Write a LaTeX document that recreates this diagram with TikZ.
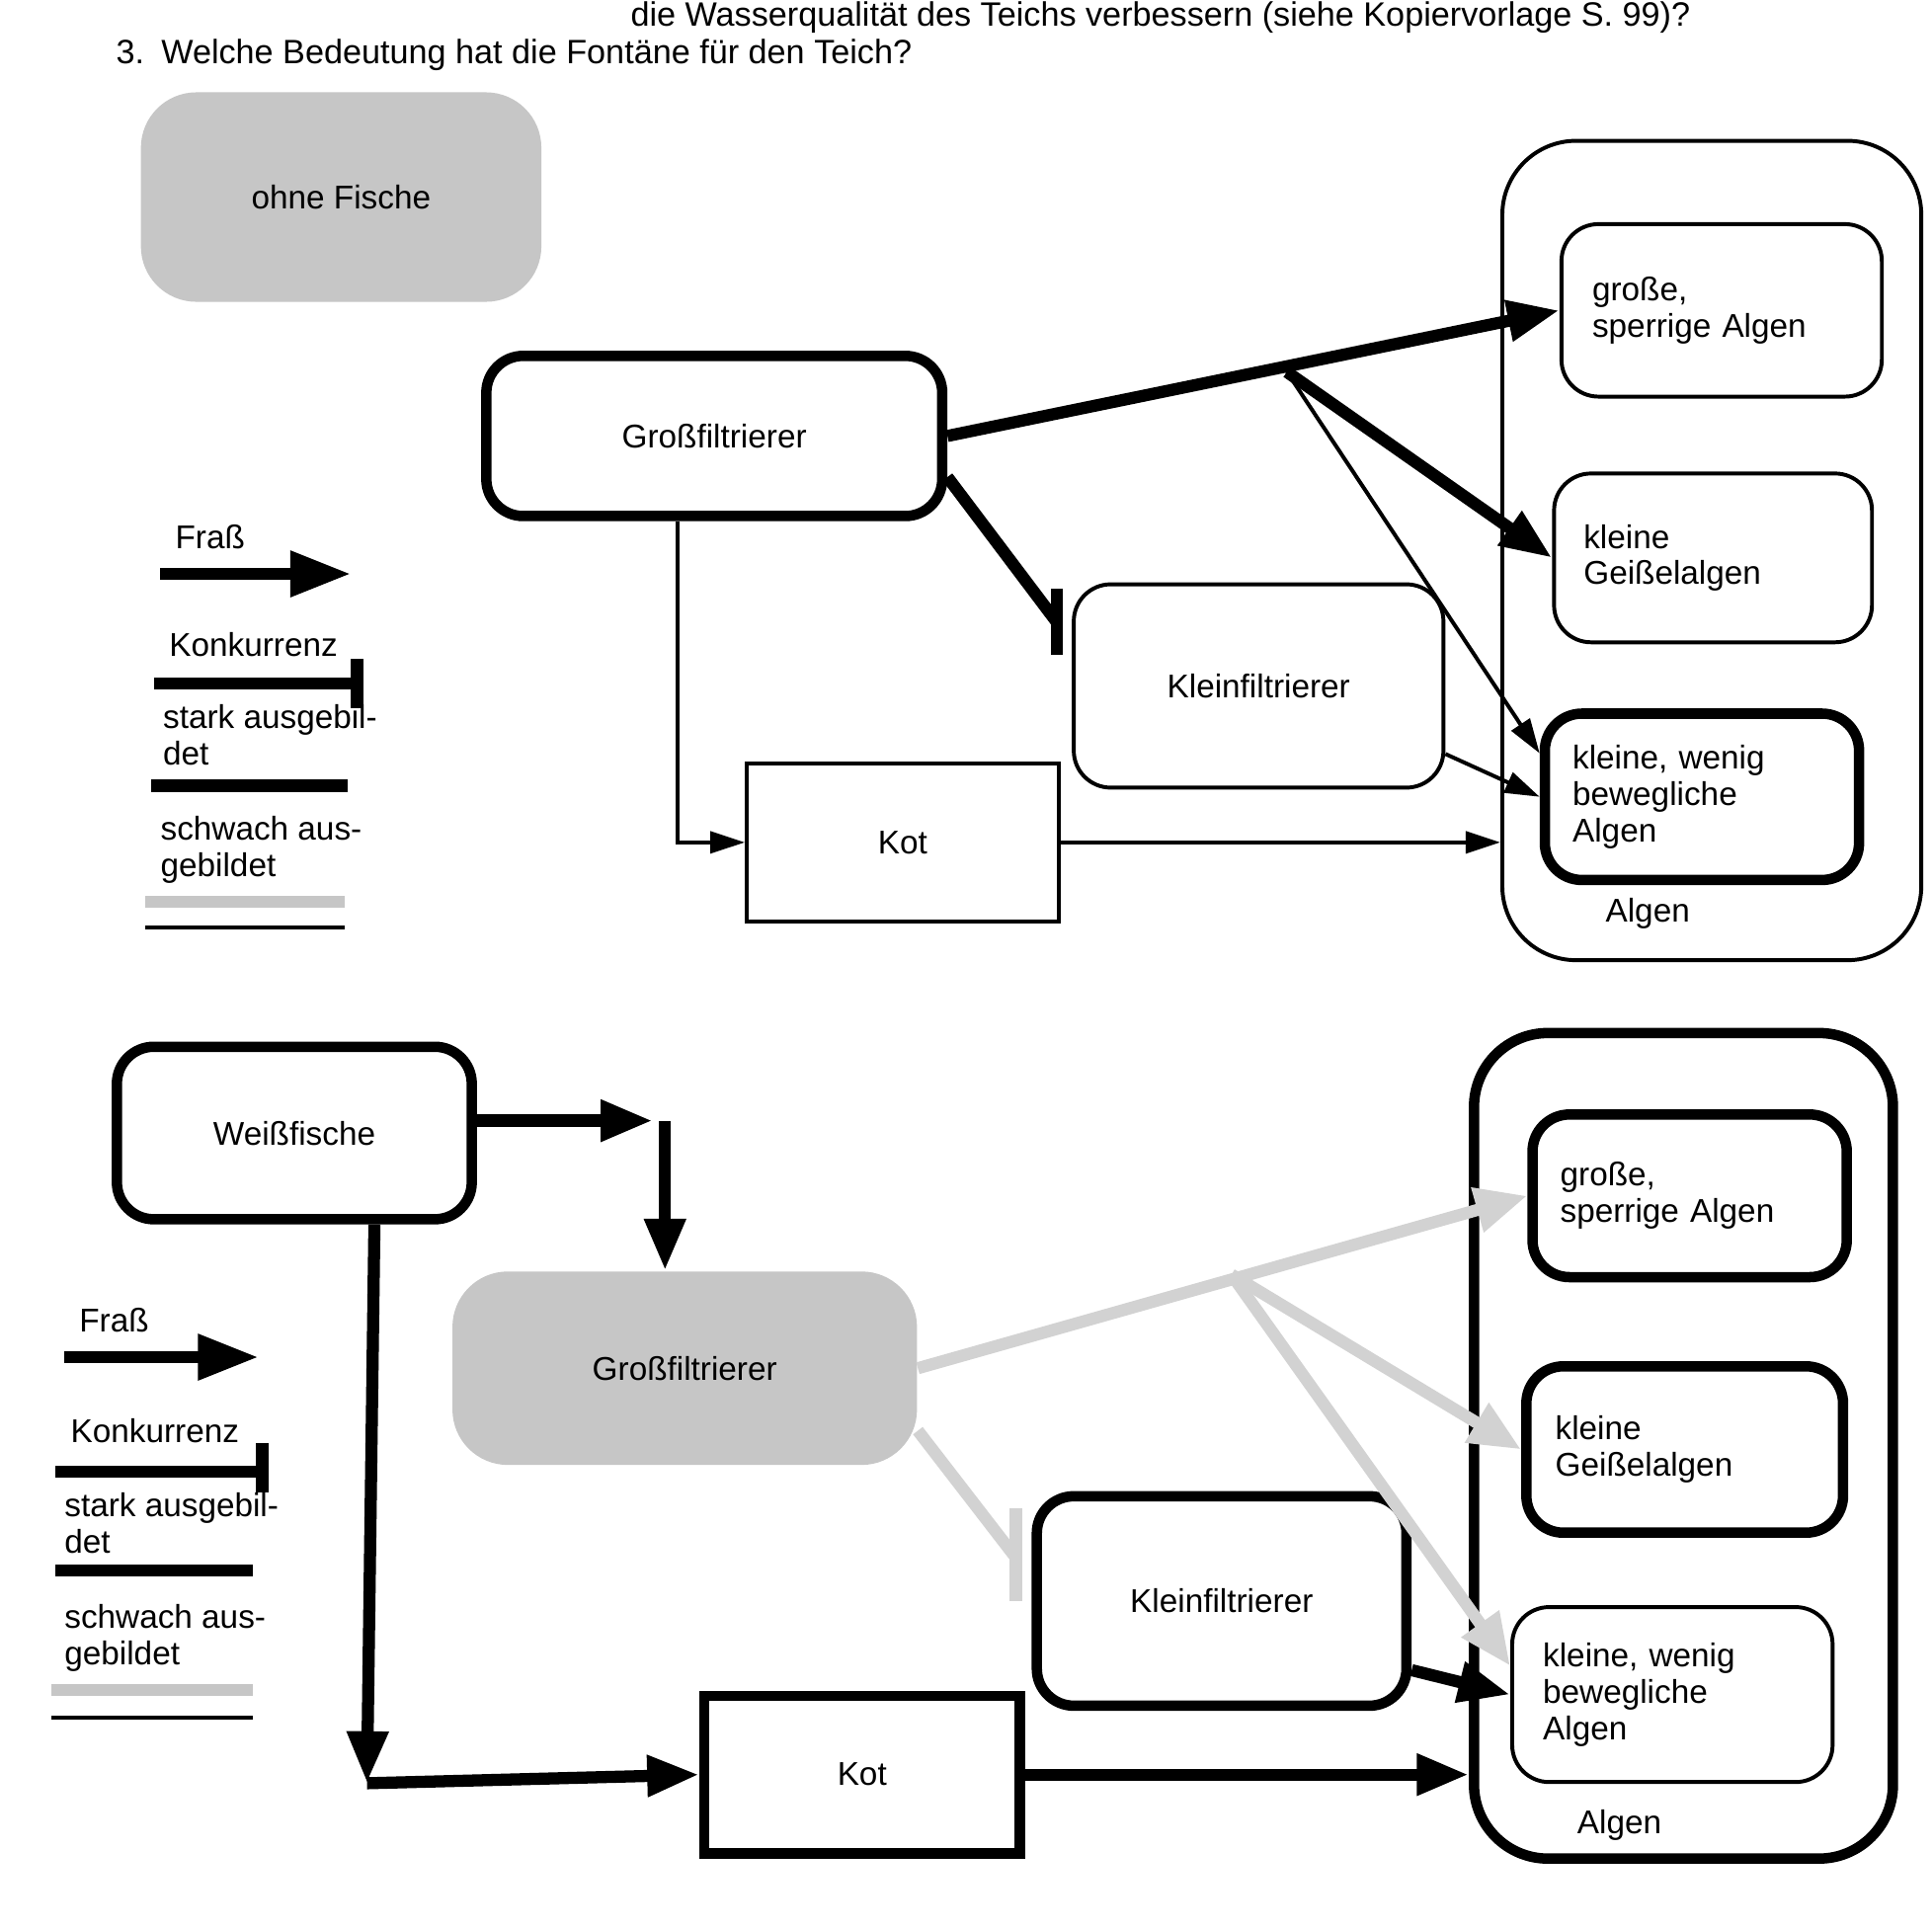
\documentclass[tikz,border=0pt]{standalone}
\usepackage{fontspec}
\setmainfont{Liberation Sans}
\usetikzlibrary{arrows.meta, positioning}

\tikzset{
  box/.style={draw, line width=0.9pt, rounded corners=0.3cm, fill=white},
  boxthick/.style={draw, line width=2.4pt, rounded corners=0.3cm, fill=white},
  grey box/.style={fill=gray!45, rounded corners=0.45cm},
  alg text/.style={align=left, text width=2.1cm},
  feed/.style={line width=2.8pt, -{Triangle[length=12pt, width=9pt]}},
  feed thin/.style={line width=0.9pt, -{Triangle[length=8pt, width=5pt]}},
  feed grey/.style={line width=2.8pt, gray!35, -{Triangle[length=12pt, width=10pt]}},
}

\begin{document}
\begin{tikzpicture}[x=0.01cm, y=-0.01cm, font=\fontsize{7.6}{8.4}\selectfont, >=Triangle]

\fill[white] (0,0) rectangle (1568,1568);
\useasboundingbox (0,0) rectangle (1568,1568);

% header
\node[anchor=east, font=\fontsize{7.8}{9}\selectfont] at (1385,14) {die Wasserqualität des Teichs verbessern (siehe Kopiervorlage S. 99)?};
\node[anchor=west, font=\fontsize{7.8}{9}\selectfont] at (82,45) {3.\enspace Welche Bedeutung hat die Fontäne für den Teich?};

% ---------- upper part: ohne Fische ----------
\node[grey box, minimum width=3.25cm, minimum height=1.7cm] (ohne) at (277,160) {ohne Fische};
\node[boxthick, minimum width=3.7cm, minimum height=1.3cm] (gf1) at (580,354) {Großfiltrierer};
\node[box, minimum width=3.0cm, minimum height=1.65cm] (kf1) at (1022,557) {Kleinfiltrierer};
\node[draw, line width=0.9pt, minimum width=2.53cm, minimum height=1.28cm] (kot1) at (733,684) {Kot};
\node[box, rounded corners=0.6cm, minimum width=3.4cm, minimum height=6.65cm, fill=none] (alg1) at (1390,447) {};
\node (alglab1) at (1338,742) {Algen};
\node[box, alg text, minimum width=2.6cm, minimum height=1.4cm] (gs1) at (1398,252) {große,\\sperrige Algen};
\node[box, alg text, minimum width=2.58cm, minimum height=1.37cm] (kg1) at (1391,453) {kleine\\Geißelalgen};
\node[boxthick, alg text, minimum width=2.55cm, minimum height=1.35cm] (kw1) at (1382,647) {kleine, wenig\\bewegliche\\Algen};

% feeding
\coordinate (b1) at (1045,302);
\draw[feed] (gf1.east) -- (gs1.west);
\draw[feed] (b1) -- (kg1.west);
\draw[feed thin] (b1) -- (kw1.165);
\draw[feed thin] (kf1.-20) -- (kw1.west);
\draw[feed thin] ([xshift=-0.3cm]gf1.south) |- (kot1.west);
\draw[feed thin] (kot1.east) -- (kot1.east -| alg1.west);
% competition
\coordinate (c1) at (858,505);
\draw[line width=2.8pt] (gf1.-10) -- (c1);
\draw[line width=2.8pt] (858,478) -- (858,532);

% legend
\node[anchor=west] at (130,436) {Fraß};
\draw[line width=2.8pt, -{Triangle[length=14pt, width=10pt]}] (130,466) -- (285,466);
\node[anchor=west] at (125,523) {Konkurrenz};
\draw[line width=2.8pt] (125,555) -- (290,555);
\draw[line width=2.8pt] (290,535) -- (290,575);
\node[anchor=west, align=left] at (120,597) {stark ausgebil-\\det};
\draw[line width=2.8pt] (123,638) -- (282,638);
\node[anchor=west, align=left] at (118,690) {schwach aus-\\gebildet};
\draw[line width=2.8pt, gray!45] (118,732) -- (280,732);
\draw[line width=0.9pt] (118,753) -- (280,753);

% ---------- lower part: mit Weißfischen ----------
\node[boxthick, minimum width=2.88cm, minimum height=1.4cm] (wf) at (239,920) {Weißfische};
\node[grey box, minimum width=3.77cm, minimum height=1.57cm] (gf2) at (556,1111) {Großfiltrierer};
\node[boxthick, minimum width=3.0cm, minimum height=1.7cm] (kf2) at (992,1300) {Kleinfiltrierer};
\node[draw, line width=2.4pt, minimum width=2.56cm, minimum height=1.28cm] (kot2) at (700,1441) {Kot};
\node[boxthick, rounded corners=0.6cm, minimum width=3.4cm, minimum height=6.7cm, fill=none] (alg2) at (1367,1174) {};
\node (alglab2) at (1315,1482) {Algen};
\node[boxthick, alg text, minimum width=2.55cm, minimum height=1.32cm] (gs2) at (1372,971) {große,\\sperrige Algen};
\node[boxthick, alg text, minimum width=2.57cm, minimum height=1.35cm] (kg2) at (1368,1177) {kleine\\Geißelalgen};
\node[box, alg text, minimum width=2.6cm, minimum height=1.42cm] (kw2) at (1358,1376) {kleine, wenig\\bewegliche\\Algen};

% feeding
\coordinate (w1) at (540,910);
\coordinate (w2) at (298,1448);
\draw[feed] (wf.east |- w1) -- ([xshift=-0.1cm]w1);
\draw[feed] (w1) -- (gf2.north -| w1);
\draw[feed] ([xshift=0.65cm]wf.south) -- (w2);
\draw[feed] (w2) -- (kot2.west);
\coordinate (b2) at (1000,1035);
\draw[feed grey] (gf2.east) -- (gs2.west);
\draw[feed grey] (b2) -- (kg2.west);
\draw[feed grey] (b2) -- (kw2.170);
\draw[feed] (kf2.-20) -- (kw2.west);
\draw[feed] (kot2.east) -- (kot2.east -| alg2.west);
% competition
\coordinate (c2) at (825,1265);
\draw[line width=2.8pt, gray!35] (gf2.-15) -- (c2);
\draw[line width=2.8pt, gray!35] (825,1225) -- (825,1300);

% legend
\node[anchor=west] at (52,1072) {Fraß};
\draw[line width=2.8pt, -{Triangle[length=14pt, width=10pt]}] (52,1102) -- (210,1102);
\node[anchor=west] at (45,1162) {Konkurrenz};
\draw[line width=2.8pt] (45,1195) -- (213,1195);
\draw[line width=2.8pt] (213,1172) -- (213,1212);
\node[anchor=west, align=left] at (40,1237) {stark ausgebil-\\det};
\draw[line width=2.8pt] (45,1275) -- (205,1275);
\node[anchor=west, align=left] at (40,1330) {schwach aus-\\gebildet};
\draw[line width=2.8pt, gray!45] (42,1372) -- (205,1372);
\draw[line width=0.9pt] (42,1395) -- (205,1395);

\end{tikzpicture}
\end{document}
